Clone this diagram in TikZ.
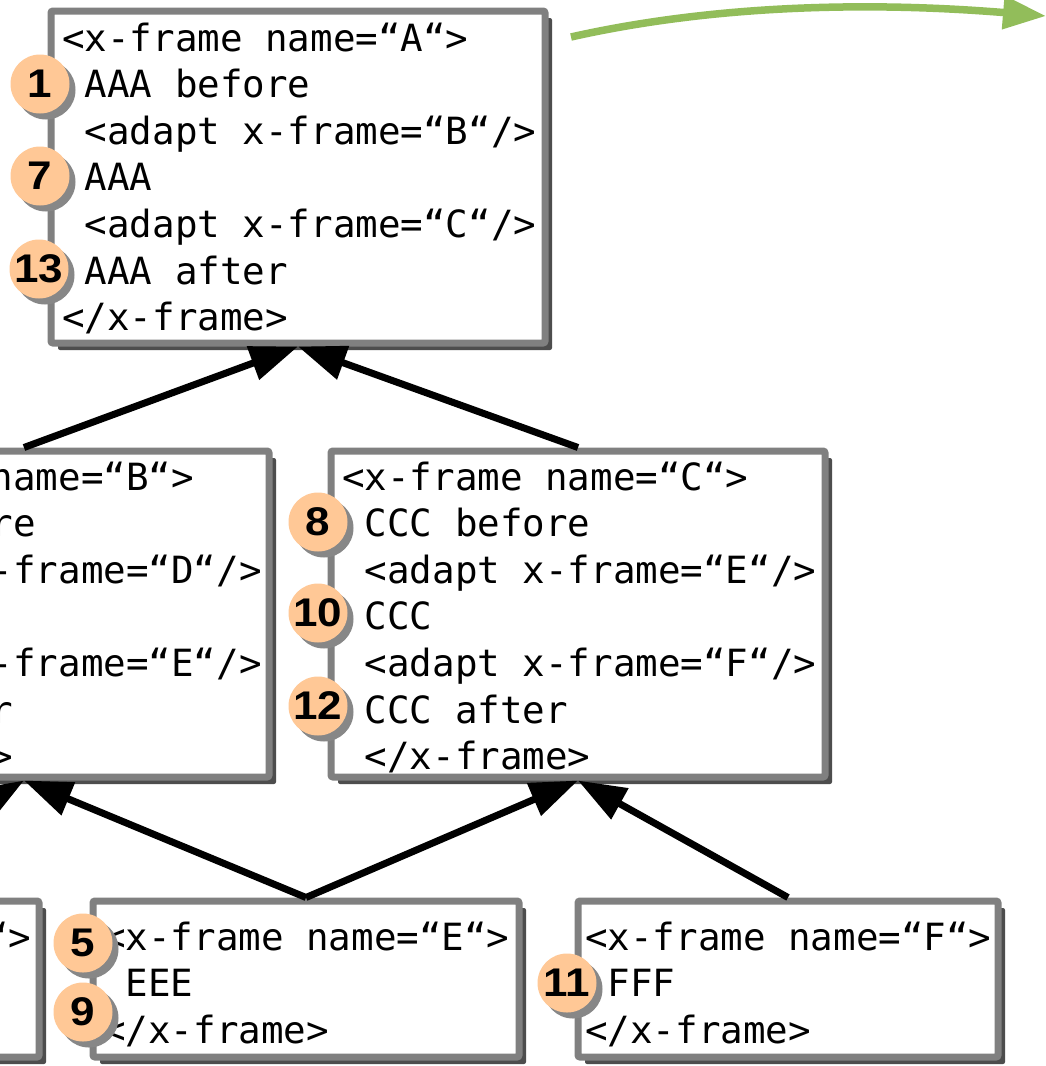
\documentclass[tikz,border=0pt]{standalone}
\usepackage{fontspec}
\newfontfamily\codefont{DejaVu Sans Mono}
\newfontfamily\numfont{Liberation Sans}
\usetikzlibrary{arrows.meta,shadows,calc}
\definecolor{framegray}{HTML}{808080}
\definecolor{shadowdark}{HTML}{4D4D4D}
\definecolor{badgefill}{HTML}{FFC896}
\definecolor{badgeshadow}{HTML}{878787}
\definecolor{greenarrow}{HTML}{92BD5A}
\newcommand\badgenum[1]{\scalebox{1.1}[1]{#1}}
\tikzset{
  xframe/.style={draw=framegray, line width=7pt, fill=white, rounded corners=2pt, inner sep=0pt,
    drop shadow={shadow xshift=7pt, shadow yshift=-7pt, fill=shadowdark, opacity=1}},
  code/.style={font=\codefont\fontsize{37.5}{46.6}\selectfont, inner sep=0pt, anchor=base west},
  badge/.style={circle, fill=badgefill, minimum size=59pt, inner sep=0pt,
    font=\numfont\bfseries\fontsize{40}{40}\selectfont,
    drop shadow={shadow xshift=6pt, shadow yshift=-6pt, fill=badgeshadow, opacity=1}},
  conn/.style={line width=7pt, -{Triangle[length=48pt,width=34pt]}},
  flow/.style={draw=greenarrow, line width=7.5pt, -{Triangle[length=43pt,width=32pt]}},
}
\begin{document}
\begin{tikzpicture}[x=1pt,y=-1pt]
\useasboundingbox (0,0) rectangle (1046,1066);
\fill[white] (0,0) rectangle (1046,1066);
\clip (0,0) rectangle (1046,1066);

% frames
\node[xframe, minimum width=494pt, minimum height=332pt] (A) at (298,177) {};
\node[xframe, minimum width=490pt, minimum height=326pt] (B) at (24,614) {};
\node[xframe, minimum width=494pt, minimum height=326pt] (C) at (578,614) {};
\node[xframe, minimum width=425pt, minimum height=156pt] (D) at (-173.5,979) {};
\node[xframe, minimum width=426pt, minimum height=156pt] (E) at (306,979) {};
\node[xframe, minimum width=420pt, minimum height=156pt] (F) at (788,979) {};

% texts
\foreach \t [count=\i from 0] in {<x-frame name=“A“>, \hphantom{x}AAA before, \hphantom{x}<adapt x-frame=“B“/>, \hphantom{x}AAA, \hphantom{x}<adapt x-frame=“C“/>, \hphantom{x}AAA after, </x-frame>}
  \node[code] (A-\i) at (62,{51+46.6*\i}) {\t};
\foreach \t [count=\i from 0] in {<x-frame name=“B“>, \hphantom{x}BBB before, \hphantom{x}<adapt x-frame=“D“/>, \hphantom{x}BBB, \hphantom{x}<adapt x-frame=“E“/>, \hphantom{x}BBB after, </x-frame>}
  \node[code] (B-\i) at (-212.6,{490+46.6*\i}) {\t};
\foreach \t [count=\i from 0] in {<x-frame name=“C“>, \hphantom{x}CCC before, \hphantom{x}<adapt x-frame=“E“/>, \hphantom{x}CCC, \hphantom{x}<adapt x-frame=“F“/>, \hphantom{x}CCC after, \hphantom{x}</x-frame>}
  \node[code] (C-\i) at (342,{490+46.6*\i}) {\t};
\node[code] (D-0) at (-375,950) {<x-frame name=“D“>};
\foreach \t [count=\i from 0] in {<x-frame name=“E“>, \hphantom{x}EEE, </x-frame>}
  \node[code] (E-\i) at (103,{950+46.6*\i}) {\t};
\foreach \t [count=\i from 0] in {<x-frame name=“F“>, \hphantom{x}FFF, </x-frame>}
  \node[code] (F-\i) at (585,{950+46.6*\i}) {\t};

% badges
\node[badge] (b1)  at (40,84)  {\badgenum{1}};
\node[badge] (b7)  at (40,176) {\badgenum{7}};
\node[badge] (b13) at (39,269) {\badgenum{13}};
\node[badge] (b8)  at (318,522) {\badgenum{8}};
\node[badge] (b10) at (318,613) {\badgenum{10}};
\node[badge] (b12) at (318,706) {\badgenum{12}};
\node[badge] (b5)  at (83,943) {\badgenum{5}};
\node[badge] (b9)  at (83,1012) {\badgenum{9}};
\node[badge] (b11) at (567,983) {\badgenum{11}};

% connectors
\draw[conn] (B.north) -- (A.south);
\draw[conn] (C.north) -- (A.south);
\draw[conn] (D.north) -- (B.south);
\draw[conn] (E.north) -- (B.south);
\draw[conn] (E.north) -- (C.south);
\draw[conn] (F.north) -- (C.south);

% green flow arrow
\coordinate (gs) at (571,37);
\coordinate (ge) at (1046,16);
\draw[flow] (gs) .. controls (700,8) and (850,0) .. (ge);
\end{tikzpicture}
\end{document}
